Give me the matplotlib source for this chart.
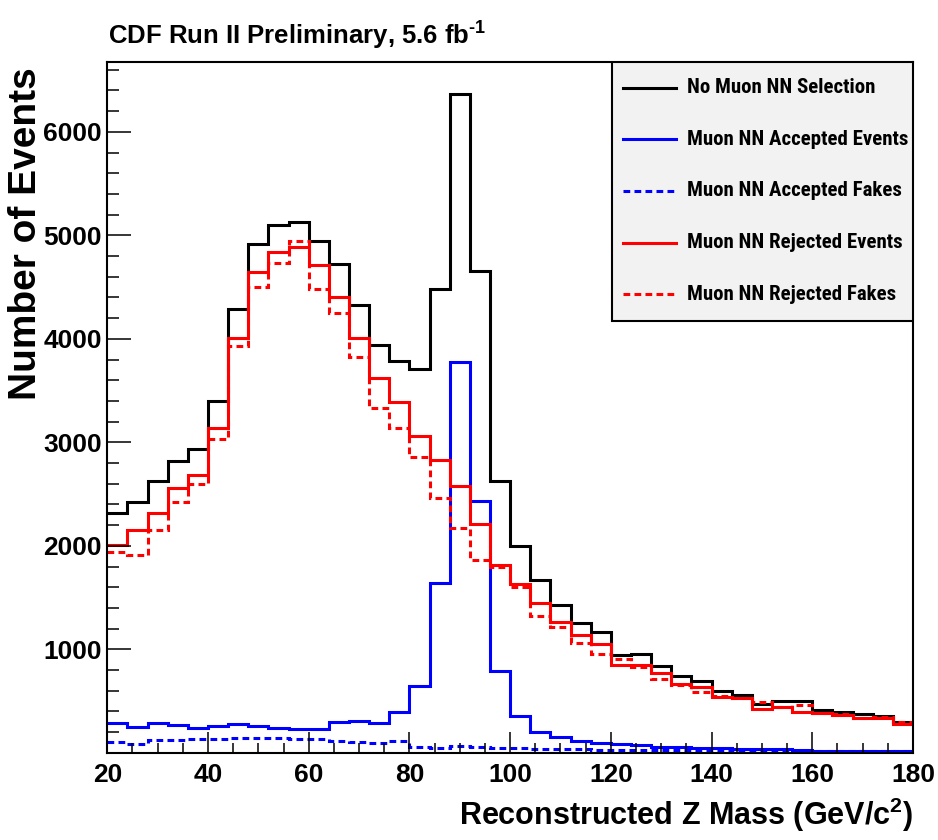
import numpy as np
import matplotlib
matplotlib.use("Agg")
import matplotlib.pyplot as plt
from matplotlib import font_manager as fm
from matplotlib.ticker import MultipleLocator, FixedLocator
from matplotlib.patches import Rectangle
from matplotlib.lines import Line2D

# ---------------- data ----------------
bin_lo, bin_hi, bin_w = 20, 180, 4
no_selection = [2314, 2420, 2626, 2822, 2935, 3402, 4288, 4916, 5100, 5129,
                4945, 4720, 4326, 3937, 3789, 3705, 4478, 6368, 4655, 2626,
                1998, 1667, 1431, 1251, 1164, 945, 952, 836, 742, 694,
                600, 561, 471, 503, 497, 413, 394, 375, 355, 300]
accepted_events = [291, 252, 290, 269, 237, 262, 275, 259, 237, 227,
                   227, 301, 310, 290, 397, 645, 1637, 3773, 2436, 793,
                   355, 204, 156, 114, 98, 82, 77, 59, 53, 50,
                   44, 37, 34, 34, 28, 21, 18, 18, 18, 15]
accepted_fakes = [107, 85, 124, 124, 133, 133, 140, 140, 140, 133,
                  130, 117, 107, 98, 114, 59, 50, 66, 59, 44,
                  44, 37, 34, 34, 30, 30, 28, 28, 26, 25,
                  24, 22, 22, 20, 20, 19, 18, 18, 17, 17]
rejected_events = [2005, 2150, 2320, 2562, 2687, 3135, 4011, 4649, 4842, 4884,
                   4713, 4401, 4011, 3624, 3386, 3064, 2829, 2578, 2208, 1814,
                   1634, 1447, 1264, 1135, 1054, 848, 848, 774, 668, 633,
                   542, 526, 426, 446, 397, 381, 362, 333, 333, 278]
rejected_fakes = [1940, 1908, 2150, 2420, 2594, 3029, 3934, 4498, 4730, 4945,
                  4478, 4246, 3827, 3334, 3135, 2861, 2465, 2169, 1863, 1798,
                  1599, 1322, 1218, 1058, 952, 903, 832, 710, 655, 590,
                  549, 526, 494, 446, 462, 381, 375, 333, 343, 295]
labels = ["No Muon NN Selection", "Muon NN Accepted Events", "Muon NN Accepted Fakes",
          "Muon NN Rejected Events", "Muon NN Rejected Fakes"]
x_ticks = [20, 40, 60, 80, 100, 120, 140, 160, 180]
y_ticks = [1000, 2000, 3000, 4000, 5000, 6000]

# ---------------- fonts ----------------
names = {f.name for f in fm.fontManager.ttflist}
cond_prefs = ['Roboto Condensed', 'Liberation Sans Narrow', 'Archivo Narrow',
              'Open Sans Condensed', 'DejaVu Sans Condensed']
cond = next((n for n in cond_prefs if n in names), None)

WIDE = ['Liberation Sans', 'DejaVu Sans']
plt.rcParams['font.family'] = WIDE
plt.rcParams['font.weight'] = 'bold'
plt.rcParams['mathtext.fontset'] = 'custom'
plt.rcParams['mathtext.rm'] = 'Liberation Sans:bold'
plt.rcParams['mathtext.bf'] = 'Liberation Sans:bold'
plt.rcParams['mathtext.it'] = 'Liberation Sans:bold'
plt.rcParams['mathtext.default'] = 'rm'

fig = plt.figure(figsize=(9.38, 8.4), dpi=100)
ax = fig.add_axes([0.1144, 0.1038, 0.8589, 0.8227])

edges = np.arange(bin_lo, bin_hi + bin_w, bin_w)
lw = 2.2
dash = (2.2, 1.4)
series = [
    (no_selection, 'black', '-'),
    (accepted_events, '#0000ff', '-'),
    (accepted_fakes, '#0000ff', '--'),
    (rejected_events, '#ff0000', '-'),
    (rejected_fakes, '#ff0000', '--'),
]
for vals, col, ls in series:
    st = ax.stairs(vals, edges, baseline=None, color=col, linewidth=lw)
    if ls == '--':
        st.set_linestyle((0, dash))

ax.set_xlim(bin_lo, bin_hi)
ax.set_ylim(0, 6677)
ax.xaxis.set_major_locator(FixedLocator(x_ticks))
ax.xaxis.set_minor_locator(MultipleLocator(5))
ax.yaxis.set_major_locator(FixedLocator(y_ticks))
ax.yaxis.set_minor_locator(MultipleLocator(200))
ax.tick_params(axis='both', which='both', direction='in', width=1.1, colors='black')
ax.tick_params(axis='y', which='major', length=17, pad=4, labelsize=19)
ax.tick_params(axis='y', which='minor', length=8.5)
ax.tick_params(axis='x', which='major', length=15, pad=7, labelsize=19)
ax.tick_params(axis='x', which='minor', length=7.5)
for lab in ax.get_xticklabels() + ax.get_yticklabels():
    lab.set_fontweight('bold')
for sp in ax.spines.values():
    sp.set_linewidth(1.5)

# legend box
ax.add_patch(Rectangle((0.6264, 0.6252), 0.3736, 0.3748, transform=ax.transAxes,
                       facecolor='#f2f2f2', edgecolor='black', linewidth=1.5, zorder=5))
entry_y = [0.9624, 0.8882, 0.8130, 0.7381, 0.6639]
leg_family = [cond] + WIDE if cond else WIDE
leg_size = 15 if cond else 12.5
for (vals, col, ls), lab, yy in zip(series, labels, entry_y):
    ln = Line2D([0.640, 0.7059], [yy, yy], transform=ax.transAxes, color=col,
                linewidth=lw, zorder=6)
    if ls == '--':
        ln.set_linestyle((0, dash))
    ax.add_line(ln)
    ax.text(0.7195, yy, lab, transform=ax.transAxes, fontsize=leg_size, fontweight='bold',
            family=leg_family, va='center', ha='left', zorder=6)

fig.text(108 / 938, 1 - 45 / 840, r"CDF Run II Preliminary, 5.6 fb$^{\text{-}1}$",
         fontsize=18.5, fontweight='bold', ha='left', va='baseline')
fig.text(26 / 938, 1 - 234 / 840, "Number of Events", rotation=90,
         fontsize=28, fontweight='bold', ha='center', va='center')
fig.text(913 / 938, 15 / 840, "Reconstructed Z Mass (GeV/c$^{2}$)",
         fontsize=22, fontweight='bold', ha='right', va='baseline')

fig.savefig("out.png", dpi=100)
